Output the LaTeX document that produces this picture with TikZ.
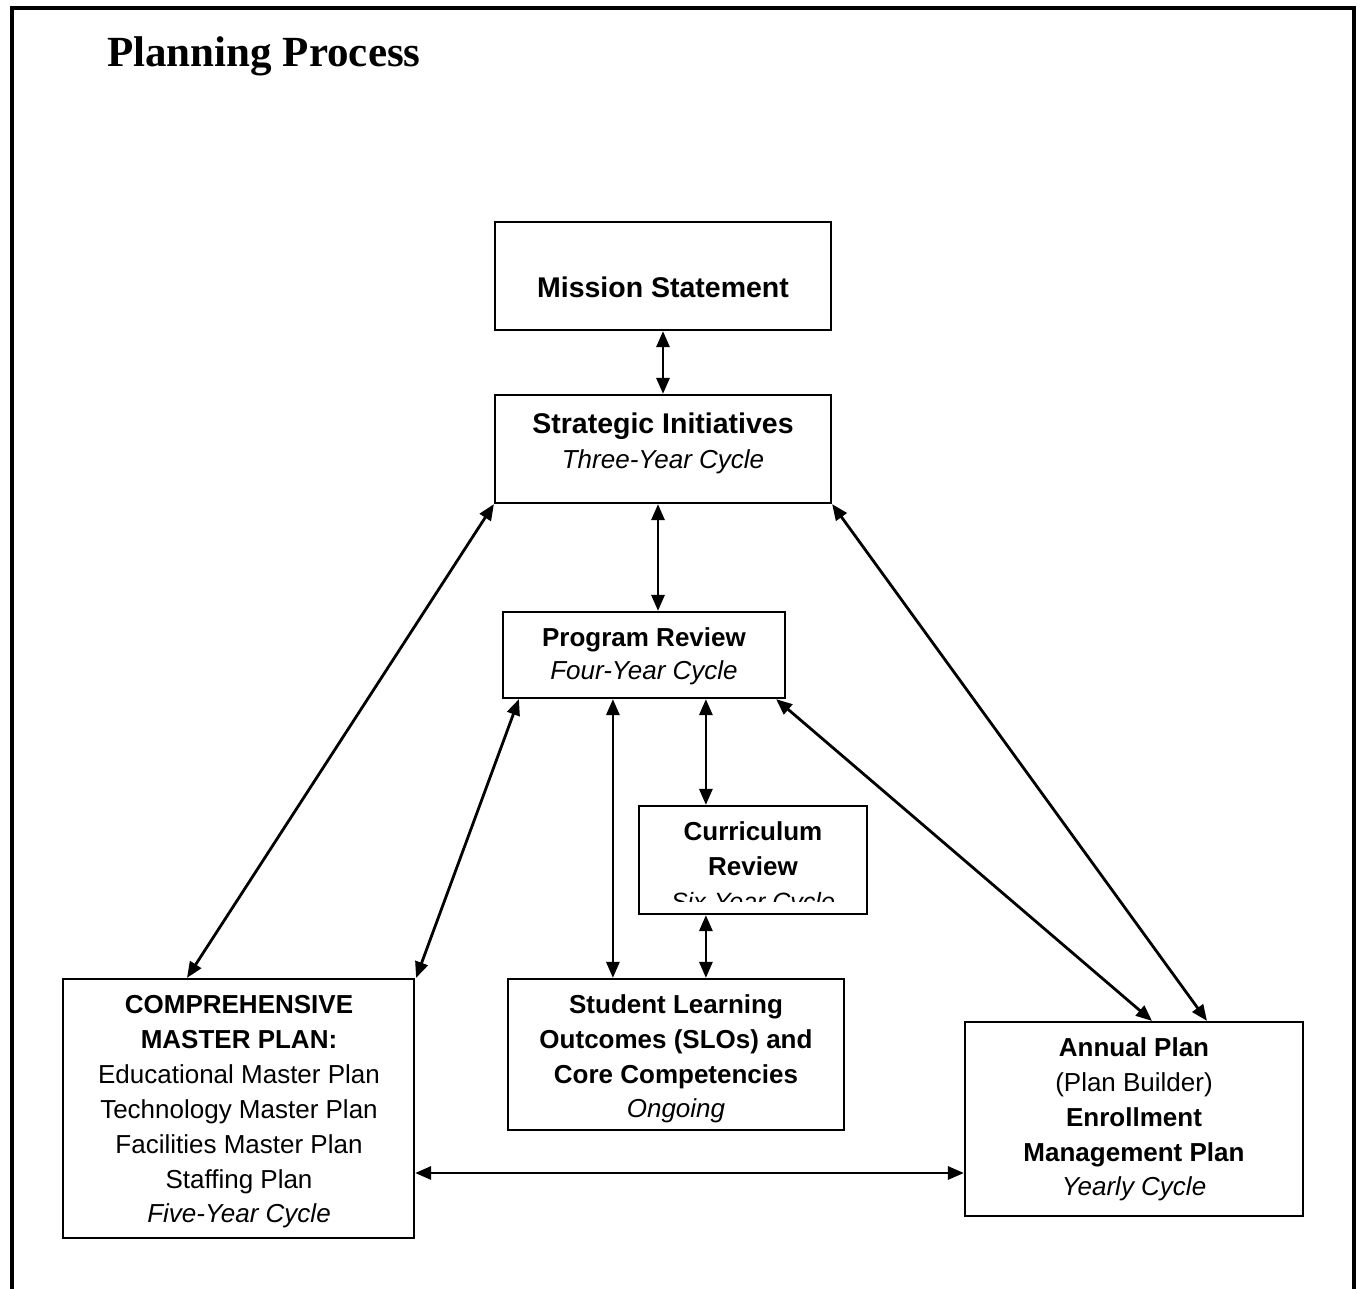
\documentclass[tikz,border=0pt]{standalone}
\usepackage{fontspec}
\setmainfont{Liberation Serif}
\newfontfamily\arialf{Liberation Sans}
\usetikzlibrary{arrows.meta}
\begin{document}
\begin{tikzpicture}[x=1pt,y=-1pt,
  boxs/.style={draw=black,line width=2.2pt,fill=white,inner sep=0pt},
  txt/.style={anchor=base,inner sep=0pt,font=\arialf\fontsize{26}{30}\selectfont},
  btxt/.style={txt,font=\arialf\bfseries\fontsize{26}{30}\selectfont},
  bigtxt/.style={txt,font=\arialf\bfseries\fontsize{28.5}{32}\selectfont},
  itxt/.style={txt,font=\arialf\itshape\fontsize{26}{30}\selectfont},
  conn/.style={line width=2.8pt,{Triangle[length=16pt,width=13pt]}-{Triangle[length=16pt,width=13pt]}}]
\useasboundingbox (0,0) rectangle (1360,1289);
\fill[white] (0,0) rectangle (1360,1289);
% outer frame (open at bottom)
\draw[line width=3.5pt] (12,1289) -- (12,8) -- (1354,8) -- (1354,1289);
\node[anchor=base west,inner sep=0pt,font=\bfseries\fontsize{43}{48}\selectfont] (title) at (107,67) {Planning Process};

% boxes
\node[boxs,minimum width=336pt,minimum height=108pt] (ms) at (663,276) {};
\node[boxs,minimum width=336pt,minimum height=108pt] (si) at (663,449) {};
\node[boxs,minimum width=282pt,minimum height=86pt] (pr) at (644,655) {};
\node[boxs,minimum width=228pt,minimum height=108pt] (cr) at (753,860) {};
\node[boxs,minimum width=336pt,minimum height=151pt] (slo) at (676,1054.5) {};
\node[boxs,minimum width=351pt,minimum height=259pt] (cmp) at (238.5,1108.5) {};
\node[boxs,minimum width=338pt,minimum height=194pt] (ap) at (1134,1119) {};

% texts
\node[bigtxt] (ms1) at (663,298) {Mission Statement};
\node[bigtxt] (si1) at (663,433) {Strategic Initiatives};
\node[itxt] (si2) at (663,468) {Three-Year Cycle};
\node[btxt] (pr1) at (644,646) {Program Review};
\node[itxt] (pr2) at (644,679) {Four-Year Cycle};
\node[btxt] (cr1) at (753,840) {Curriculum};
\node[btxt] (cr2) at (753,875) {Review};
\begin{scope}
  \clip (640,807) rectangle (866,901);
  \node[itxt,font=\arialf\itshape\fontsize{25}{30}\selectfont] (cr3) at (753,910) {Six-Year Cycle};
\end{scope}
\node[btxt] (slo1) at (676,1013) {Student Learning};
\node[btxt] (slo2) at (676,1048) {Outcomes (SLOs) and};
\node[btxt] (slo3) at (676,1083) {Core Competencies};
\node[itxt] (slo4) at (676,1117) {Ongoing};
\node[btxt] (cmp1) at (239,1013) {COMPREHENSIVE};
\node[btxt] (cmp2) at (239,1048) {MASTER PLAN:};
\node[txt] (cmp3) at (239,1083) {Educational Master Plan};
\node[txt] (cmp4) at (239,1118) {Technology Master Plan};
\node[txt] (cmp5) at (239,1153) {Facilities Master Plan};
\node[txt] (cmp6) at (239,1188) {Staffing Plan};
\node[itxt] (cmp7) at (239,1222) {Five-Year Cycle};
\node[btxt] (ap1) at (1134,1056) {Annual Plan};
\node[txt] (ap2) at (1134,1091) {(Plan Builder)};
\node[btxt] (ap3) at (1134,1126) {Enrollment};
\node[btxt] (ap4) at (1134,1161) {Management Plan};
\node[itxt] (ap5) at (1134,1195) {Yearly Cycle};

% connectors
\draw[conn] (ms.south) -- (si.north);
\draw[conn] ([xshift=-5pt]si.south) -- ([xshift=14pt]pr.north);
\draw[conn] (si.south west) -- ([xshift=-51.5pt]cmp.north);
\draw[conn] (si.south east) -- ([xshift=73pt]ap.north);
\draw[conn] ([xshift=17pt]pr.south west) -- ([xshift=1pt]cmp.north east);
\draw[conn] ([xshift=111pt]pr.south west) -- ([xshift=106pt]slo.north west);
\draw[conn] ([xshift=204pt]pr.south west) -- ([xshift=68pt]cr.north west);
\draw[conn] ([xshift=-10pt]pr.south east) -- ([xshift=18pt]ap.north);
\draw[conn] ([xshift=68pt]cr.south west) -- ([xshift=199pt]slo.north west);
\draw[conn] ([yshift=-64.5pt]cmp.east) -- ([yshift=-54pt]ap.west);
\end{tikzpicture}
\end{document}
